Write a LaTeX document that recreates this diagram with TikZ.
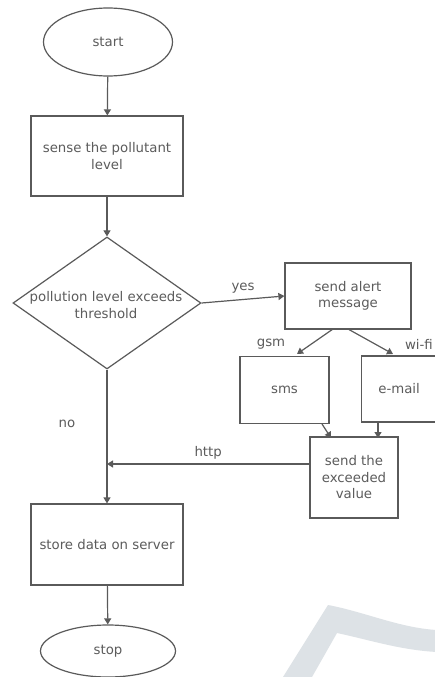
\documentclass[tikz,border=0pt]{standalone}
\usepackage{fontspec}
\setmainfont{DejaVu Sans}
\usetikzlibrary{arrows.meta,shapes.geometric}
\definecolor{ln}{HTML}{5A5A5A}
\definecolor{tx}{HTML}{5C5C5C}
\definecolor{wm}{HTML}{DDE2E6}
\begin{document}
\begin{tikzpicture}[x=1pt,y=-1pt,
  every node/.style={font=\fontsize{13.3}{16.5}\selectfont, text=tx},
  boxnode/.style={draw=ln, line width=1.2pt, rectangle, inner sep=0pt, align=center},
  ovalnode/.style={draw=ln, line width=1.2pt, ellipse, inner sep=0pt},
  decnode/.style={draw=ln, line width=1.2pt, diamond, inner sep=0pt, align=center},
  lbl/.style={inner sep=1pt},
  conn/.style={draw=ln, line width=1.2pt, -{Triangle[width=7pt,length=6pt]}}]
\useasboundingbox (0,0) rectangle (435,677);
\fill[white] (0,0) rectangle (435,677);
% watermark
\fill[wm] (283,677) -- (328,605) .. controls (365,612) and (400,628) .. (437,630) -- (437,652) .. controls (400,650) and (370,640) .. (337,633) -- (312,677) -- cycle;

\node[ovalnode, minimum width=129pt, minimum height=68pt] (start) at (108,42) {start};
\node[boxnode, minimum width=152pt, minimum height=80pt] (sense) at (107,156) {sense the pollutant\\level};
\node[decnode, minimum width=188pt, minimum height=132pt] (dec) at (107,303) {};
\node[align=center, inner sep=0pt] (dectext) at (106,305) {pollution level exceeds\\threshold};
\node[boxnode, minimum width=126pt, minimum height=66pt] (alert) at (348,296) {send alert\\message};
\node[boxnode, minimum width=89pt, minimum height=67pt] (sms) at (284.5,390) {sms};
\node[boxnode, minimum width=76pt, minimum height=66pt, anchor=west] (email) at (361,389) {e-mail\hspace*{1pt}};
\node[boxnode, minimum width=88pt, minimum height=81pt] (send) at (354,477.5) {send the\\exceeded\\value};
\node[boxnode, minimum width=152pt, minimum height=81pt] (store) at (107,544.5) {store data on server};
\node[ovalnode, minimum width=135pt, minimum height=52pt] (stop) at (108,651) {stop};

\coordinate (j) at (107,464);
\coordinate (a1) at (333,329);
\coordinate (a2) at (297,354);
\coordinate (b1) at (348,329);
\coordinate (b2) at (393,354);
\coordinate (c1) at (322,424);
\coordinate (c2) at (331,438);
\coordinate (d1) at (378,422);
\coordinate (d2) at (378,438);

\draw[conn] (start) -- (sense);
\draw[conn] (sense) -- (dec);
\draw[conn] (dec.east) -- node[lbl, above=5pt] {yes} (alert.west);
\draw[conn] (a1) -- (a2);
\draw[conn] (b1) -- (b2);
\draw[conn] (c1) -- (c2);
\draw[conn] (d1) -- (d2);
\draw[conn] (send.west |- j) -- node[lbl, above=3pt] {http} (j);
\draw[conn] (dec.south) -- (store.north);
\draw[conn] (store) -- (stop);

\node[lbl] (lgsm) at (271,344) {gsm};
\node[lbl, anchor=east] (lwifi) at (434,344) {wi-fi};
\node[lbl] (lno) at (67,424) {no};
\end{tikzpicture}
\end{document}
